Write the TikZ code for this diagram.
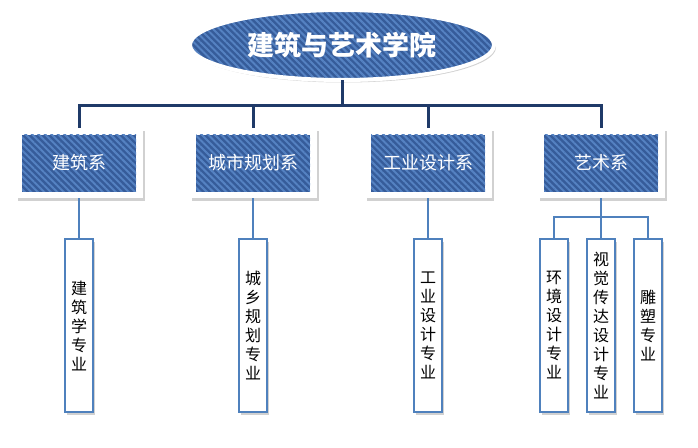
\documentclass[tikz,border=0pt]{standalone}
\usepackage{fontspec}
\newfontfamily\cjk{Noto Sans CJK SC}
\usetikzlibrary{shapes.geometric,shadows,patterns.meta}
\definecolor{navy}{HTML}{1F3A68}
\definecolor{deepblue}{HTML}{365C9A}
\definecolor{stripeblue}{HTML}{5582C2}
\definecolor{linkblue}{HTML}{4F81BD}
\tikzset{
  stripes/.style={fill=deepblue,postaction={pattern={Lines[angle=-45,distance=4.6pt,line width=2pt]},pattern color=stripeblue}},
  shade/.style={drop shadow={shadow xshift=2pt,shadow yshift=-2.5pt,opacity=0.3,fill=black!60}},
  college/.style={ellipse,stripes,shade,minimum width=304,minimum height=70,
    postaction={draw=white,line width=4pt},
    text=white,font=\cjk\bfseries\fontsize{27}{31}\selectfont},
  dept/.style={rectangle,fill=white,shade,minimum width=127,minimum height=70,
    text=white,font=\cjk\fontsize{18}{22}\selectfont,
    path picture={\fill[stripes] ([xshift=6.5pt,yshift=-6.5pt]path picture bounding box.north west)
      rectangle ([xshift=-6.5pt,yshift=6.5pt]path picture bounding box.south east);}},
  major/.style={rectangle,draw=linkblue,line width=2pt,fill=white,shade,
    minimum width=28,minimum height=173,inner sep=0pt,align=center,
    text=black,font=\cjk\fontsize{16}{19}\selectfont},
  bus/.style={draw=navy,line width=3pt},
  link/.style={draw=linkblue,line width=2pt}
}
\begin{document}
\begin{tikzpicture}[x=1pt,y=-1pt]
  \useasboundingbox (0,0) rectangle (698,447);
  % connectors
  \coordinate (hub) at (342,105);
  \coordinate (arthub) at (601,217);
  % college
  \node[college] (title) at (342,45) {建筑与艺术学院};
  % departments
  \node[dept] (jz) at (79,163) {建筑系};
  \node[dept] (cg) at (253,163) {城市规划系};
  \node[dept] (gy) at (428,163) {工业设计系};
  \node[dept] (ys) at (601,163) {艺术系};
  % majors
  \node[major] (jzm) at (79,325.5) {建\\筑\\学\\专\\业};
  \node[major] (cgm) at (253,325.5) {城\\乡\\规\\划\\专\\业};
  \node[major] (gym) at (428,325.5) {工\\业\\设\\计\\专\\业};
  \node[major] (hjm) at (554,325.5) {环\\境\\设\\计\\专\\业};
  \node[major] (sjm) at (601,325.5) {视\\觉\\传\\达\\设\\计\\专\\业};
  \node[major] (dsm) at (648,325.5) {雕\\塑\\专\\业};
  \draw[bus] (title) -- (hub);
  \foreach \d in {jz,cg,gy,ys} \draw[bus] (hub) -| (\d);
  \draw[link] (jz) -- (jzm);
  \draw[link] (cg) -- (cgm);
  \draw[link] (gy) -- (gym);
  \draw[link] (ys) -- (arthub);
  \foreach \m in {hjm,sjm,dsm} \draw[link] (arthub) -| (\m);
\end{tikzpicture}
\end{document}
